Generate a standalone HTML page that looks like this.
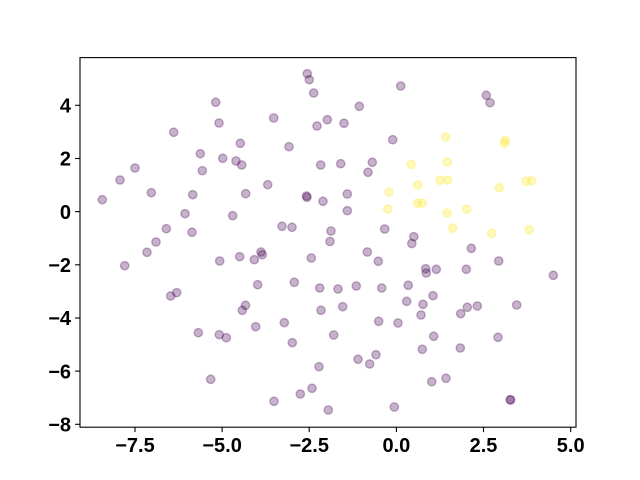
<!DOCTYPE html>
<html><head><meta charset="utf-8"><style>
html,body{margin:0;padding:0;background:#fff;}
svg{display:block;}
text{font-family:"Liberation Sans",Arial,sans-serif;font-weight:bold;font-size:20px;fill:#000;}
</style></head><body>
<svg width="640" height="480" viewBox="0 0 640 480" xmlns="http://www.w3.org/2000/svg">
<rect width="640" height="480" fill="#fff"/>
<g fill="#440154" fill-opacity="0.3" stroke="#440154" stroke-opacity="0.3" stroke-width="1.39">
<circle cx="215.7" cy="102.3" r="4.17"/><circle cx="219" cy="123" r="4.17"/><circle cx="173.7" cy="132.3" r="4.17"/><circle cx="240.3" cy="143.3" r="4.17"/><circle cx="200.3" cy="153.7" r="4.17"/><circle cx="222.7" cy="158.3" r="4.17"/><circle cx="236" cy="161" r="4.17"/><circle cx="241.7" cy="165" r="4.17"/><circle cx="135" cy="168" r="4.17"/><circle cx="202.3" cy="170.7" r="4.17"/><circle cx="120" cy="180" r="4.17"/><circle cx="151.3" cy="192.7" r="4.17"/><circle cx="192.7" cy="194.7" r="4.17"/><circle cx="245.7" cy="193.7" r="4.17"/><circle cx="102.3" cy="199.7" r="4.17"/><circle cx="185" cy="213.7" r="4.17"/><circle cx="232.7" cy="215.7" r="4.17"/><circle cx="166.3" cy="228.7" r="4.17"/><circle cx="192" cy="232.3" r="4.17"/><circle cx="156" cy="242" r="4.17"/><circle cx="147" cy="252.3" r="4.17"/><circle cx="124.7" cy="265.7" r="4.17"/><circle cx="219.7" cy="261" r="4.17"/><circle cx="239.7" cy="256.7" r="4.17"/><circle cx="176.7" cy="292.7" r="4.17"/><circle cx="170.7" cy="296" r="4.17"/><circle cx="245.5" cy="305.3" r="4.17"/><circle cx="242.3" cy="310.3" r="4.17"/><circle cx="198.3" cy="332.7" r="4.17"/><circle cx="219.3" cy="334.7" r="4.17"/><circle cx="226.3" cy="337.7" r="4.17"/><circle cx="210.7" cy="379.3" r="4.17"/><circle cx="254.3" cy="259.7" r="4.17"/>
<circle cx="307.3" cy="73.7" r="4.17"/><circle cx="309.3" cy="79.7" r="4.17"/><circle cx="400.7" cy="86" r="4.17"/><circle cx="313.7" cy="93" r="4.17"/><circle cx="359.3" cy="106.3" r="4.17"/><circle cx="273.7" cy="118" r="4.17"/><circle cx="327.3" cy="119.7" r="4.17"/><circle cx="317" cy="126" r="4.17"/><circle cx="344" cy="123.3" r="4.17"/><circle cx="392.7" cy="139.7" r="4.17"/><circle cx="289" cy="146.7" r="4.17"/><circle cx="320.7" cy="165" r="4.17"/><circle cx="340.7" cy="163.7" r="4.17"/><circle cx="372.3" cy="162.3" r="4.17"/><circle cx="368" cy="172.3" r="4.17"/><circle cx="267.7" cy="184.7" r="4.17"/><circle cx="306.5" cy="196" r="4.17"/><circle cx="307" cy="197.3" r="4.17"/><circle cx="323" cy="201.3" r="4.17"/><circle cx="347.3" cy="194" r="4.17"/><circle cx="347.3" cy="210.7" r="4.17"/><circle cx="282" cy="226.3" r="4.17"/><circle cx="292" cy="227.3" r="4.17"/><circle cx="331" cy="231" r="4.17"/><circle cx="330" cy="241.5" r="4.17"/><circle cx="384.7" cy="229" r="4.17"/><circle cx="413.8" cy="236.7" r="4.17"/><circle cx="411.8" cy="243.5" r="4.17"/>
<circle cx="261" cy="252" r="4.17"/><circle cx="262.3" cy="254.7" r="4.17"/><circle cx="311.3" cy="258" r="4.17"/><circle cx="367.3" cy="252" r="4.17"/><circle cx="378.3" cy="261.3" r="4.17"/><circle cx="257.7" cy="284.7" r="4.17"/><circle cx="294.3" cy="282.3" r="4.17"/><circle cx="319.7" cy="288" r="4.17"/><circle cx="338" cy="289" r="4.17"/><circle cx="356.3" cy="286" r="4.17"/><circle cx="381.7" cy="288" r="4.17"/><circle cx="408.2" cy="285.3" r="4.17"/><circle cx="406.7" cy="301.3" r="4.17"/><circle cx="321" cy="310.3" r="4.17"/><circle cx="342.7" cy="306.7" r="4.17"/><circle cx="255.7" cy="326.7" r="4.17"/><circle cx="284.3" cy="322.7" r="4.17"/><circle cx="378.7" cy="321.3" r="4.17"/><circle cx="398" cy="323" r="4.17"/><circle cx="333.7" cy="335" r="4.17"/><circle cx="292.3" cy="342.7" r="4.17"/><circle cx="358" cy="359.3" r="4.17"/><circle cx="376" cy="354.7" r="4.17"/><circle cx="369.7" cy="364" r="4.17"/><circle cx="319" cy="366.7" r="4.17"/><circle cx="312" cy="388.3" r="4.17"/><circle cx="300.3" cy="394" r="4.17"/><circle cx="274" cy="401.3" r="4.17"/><circle cx="328.3" cy="410" r="4.17"/><circle cx="394.3" cy="407" r="4.17"/>
<circle cx="486.3" cy="95.3" r="4.17"/><circle cx="490" cy="102.7" r="4.17"/><circle cx="471.3" cy="248.3" r="4.17"/><circle cx="498.7" cy="261" r="4.17"/><circle cx="425.7" cy="268.7" r="4.17"/><circle cx="426.3" cy="273" r="4.17"/><circle cx="436.3" cy="269.3" r="4.17"/><circle cx="466.3" cy="269.3" r="4.17"/><circle cx="553.3" cy="275.3" r="4.17"/><circle cx="433" cy="295.7" r="4.17"/><circle cx="423" cy="304.3" r="4.17"/><circle cx="421" cy="315" r="4.17"/><circle cx="467.3" cy="307.3" r="4.17"/><circle cx="477.3" cy="306" r="4.17"/><circle cx="460.7" cy="313.7" r="4.17"/><circle cx="516.7" cy="305" r="4.17"/><circle cx="433.7" cy="336.3" r="4.17"/><circle cx="498" cy="337.3" r="4.17"/><circle cx="422.3" cy="349.3" r="4.17"/><circle cx="460.3" cy="348" r="4.17"/><circle cx="446" cy="378.3" r="4.17"/><circle cx="431.7" cy="381.7" r="4.17"/><circle cx="510.3" cy="399.7" r="4.17"/><circle cx="510.5" cy="400" r="4.17"/>
</g>
<g fill="#fde725" fill-opacity="0.3" stroke="#fde725" stroke-opacity="0.3" stroke-width="1.39">
<circle cx="411.2" cy="164.5" r="4.17"/><circle cx="389.3" cy="192" r="4.17"/><circle cx="387.7" cy="209" r="4.17"/><circle cx="417.7" cy="185" r="4.17"/><circle cx="417.3" cy="203.3" r="4.17"/><circle cx="422.3" cy="203" r="4.17"/><circle cx="445.7" cy="137" r="4.17"/><circle cx="505.3" cy="140.3" r="4.17"/><circle cx="504.3" cy="143.3" r="4.17"/><circle cx="447.3" cy="162" r="4.17"/><circle cx="440" cy="180.3" r="4.17"/><circle cx="447.7" cy="180" r="4.17"/><circle cx="499.3" cy="187.7" r="4.17"/><circle cx="526" cy="181.3" r="4.17"/><circle cx="531.7" cy="180.7" r="4.17"/><circle cx="447" cy="213" r="4.17"/><circle cx="466.7" cy="209.3" r="4.17"/><circle cx="452.7" cy="228.3" r="4.17"/><circle cx="491.7" cy="233.3" r="4.17"/><circle cx="529.3" cy="229.7" r="4.17"/>
</g>
<rect x="80" y="57.6" width="496" height="369.6" fill="none" stroke="#000" stroke-width="1.1"/>
<g stroke="#000" stroke-width="1.1">
<line x1="135" y1="427.2" x2="135" y2="432.1"/><line x1="222.1" y1="427.2" x2="222.1" y2="432.1"/><line x1="309.2" y1="427.2" x2="309.2" y2="432.1"/><line x1="396.4" y1="427.2" x2="396.4" y2="432.1"/><line x1="483.5" y1="427.2" x2="483.5" y2="432.1"/><line x1="570.7" y1="427.2" x2="570.7" y2="432.1"/>
<line x1="75.1" y1="105.3" x2="80" y2="105.3"/><line x1="75.1" y1="158.5" x2="80" y2="158.5"/><line x1="75.1" y1="211.6" x2="80" y2="211.6"/><line x1="75.1" y1="264.8" x2="80" y2="264.8"/><line x1="75.1" y1="318" x2="80" y2="318"/><line x1="75.1" y1="371.1" x2="80" y2="371.1"/><line x1="75.1" y1="424.3" x2="80" y2="424.3"/>
</g>
<g text-anchor="middle">
<text x="135" y="452">−7.5</text><text x="222.1" y="452">−5.0</text><text x="309.2" y="452">−2.5</text><text x="396.4" y="452">0.0</text><text x="483.5" y="452">2.5</text><text x="570.7" y="452">5.0</text>
</g>
<g text-anchor="end">
<text x="71" y="112.5">4</text><text x="71" y="165.7">2</text><text x="71" y="218.8">0</text><text x="71" y="272">−2</text><text x="71" y="325.2">−4</text><text x="71" y="378.3">−6</text><text x="71" y="431.5">−8</text>
</g>
</svg>
</body></html>
